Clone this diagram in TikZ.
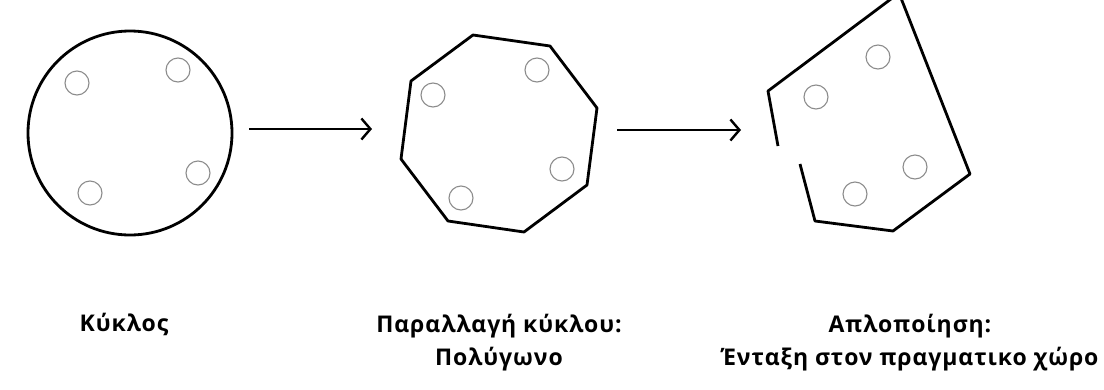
\documentclass[tikz,border=0pt]{standalone}
\usepackage{fontspec}
\newfontfamily\labelfont[LetterSpace=4]{Open Sans}
\usetikzlibrary{arrows.meta}

\begin{document}
\begin{tikzpicture}[x=1pt, y=-1pt,
    shapeline/.style={draw, line width=2.8pt, line join=round},
    hole/.style={circle, draw=black!45, line width=1.1pt, minimum size=24pt, inner sep=0pt},
    stagearrow/.style={line width=2.6pt, -{Straight Barb[length=9pt, width=21pt, line width=2.4pt]}},
    caption/.style={font=\labelfont\bfseries\fontsize{23}{33}\selectfont, align=center, anchor=base}]
    \useasboundingbox (0,0) rectangle (1104,389);
    \clip (0,0) rectangle (1104,389);

    % Circle
    \node[shapeline, circle, minimum size=204pt, inner sep=0pt] (kyklos) at (130,133) {};
    \foreach \hx/\hy in {77/83, 178/70, 198/173, 90/193}
        \node[hole] at (\hx,\hy) {};

    % Polygon
    \draw[shapeline] (473,35) -- (550,46) -- (597,108) -- (587,185)
        -- (524,232) -- (448,221) -- (401,159) -- (411,81) -- cycle;
    \foreach \hx/\hy in {433/95, 537/70, 562/169, 461/198}
        \node[hole] at (\hx,\hy) {};

    % Simplified shape
    \draw[shapeline] (778,146) -- (768,91) -- (899,-7) -- (970,174) -- (893,231)
        -- (815,221) -- (800,164);
    \foreach \hx/\hy in {878/57, 816/97, 915/167, 855/194}
        \node[hole] at (\hx,\hy) {};

    % Arrows
    \coordinate (arrowAfrom) at (249,129);
    \coordinate (arrowAto) at (372,129);
    \coordinate (arrowBfrom) at (617,130);
    \coordinate (arrowBto) at (741,130);
    \draw[stagearrow] (arrowAfrom) -- (arrowAto);
    \draw[stagearrow] (arrowBfrom) -- (arrowBto);

    % Labels
    \node[caption] (labkyklos) at (124,331) {Κύκλος};
    \node[caption] (labpoly) at (499,365) {Παραλλαγή κύκλου:\\Πολύγωνο};
    \node[caption] (labsimple) at (910,365) {Απλοποίηση:\\Ένταξη στον πραγματικο χώρο};
\end{tikzpicture}
\end{document}
